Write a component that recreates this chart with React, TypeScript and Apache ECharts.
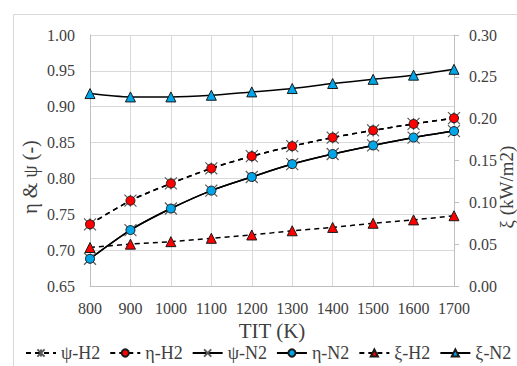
import React, { useEffect, useRef } from "react";
import * as echarts from "echarts";

const categories = ["800", "900", "1000", "1100", "1200", "1300", "1400", "1500", "1600", "1700"];
const psiH2 = [0.736, 0.769, 0.793, 0.814, 0.831, 0.845, 0.857, 0.867, 0.876, 0.884];
const etaH2 = [0.736, 0.769, 0.793, 0.814, 0.831, 0.845, 0.857, 0.867, 0.876, 0.884];
const psiN2 = [0.688, 0.728, 0.758, 0.783, 0.802, 0.820, 0.834, 0.846, 0.857, 0.866];
const etaN2 = [0.688, 0.728, 0.758, 0.783, 0.802, 0.820, 0.834, 0.846, 0.857, 0.866];
const xiH2 = [0.046, 0.050, 0.053, 0.057, 0.061, 0.066, 0.070, 0.075, 0.079, 0.084];
const xiN2 = [0.230, 0.226, 0.226, 0.228, 0.232, 0.236, 0.242, 0.247, 0.252, 0.259];

const FONT = "Liberation Serif, Times New Roman, serif";
const ASTER = "path://M0,0 L10,10 M10,0 L0,10 M5,0 L5,10";
const CROSS = "path://M0,0 L10,10 M10,0 L0,10";

export default function App() {
  const ref = useRef<HTMLDivElement>(null);
  useEffect(() => {
    if (!ref.current) return;
    const chart = echarts.init(ref.current, null, { renderer: "svg" });
    const dashed = { color: "#000", width: 1.5, type: [5, 4] as any };
    const solid = { color: "#000", width: 1.5, type: "solid" as any };
    chart.setOption({
      animation: false,
      textStyle: { fontFamily: FONT },
      grid: { left: 90, right: 63, top: 35, bottom: 80 },
      legend: {
        left: 20,
        top: 339,
        itemWidth: 30,
        itemHeight: 9,
        itemGap: 9,
        textStyle: { fontFamily: FONT, fontSize: 18, color: "#404040" },
        data: ["ψ-H2", "η-H2", "ψ-N2", "η-N2", "ξ-H2", "ξ-N2"],
      },
      graphic: [
        {
          type: "rect",
          left: 11,
          top: 12,
          shape: { width: 530, height: 380 },
          style: { stroke: "#d9d9d9", fill: "none", lineWidth: 1 },
          z: -10,
        },
        {
          type: "text",
          x: 30,
          y: 177,
          rotation: Math.PI / 2,
          style: { text: "η & ψ (-)", fontFamily: FONT, fontSize: 20, fill: "#404040", align: "center", verticalAlign: "middle" },
        },
        {
          type: "text",
          x: 506,
          y: 187,
          rotation: Math.PI / 2,
          style: { text: "ξ (kW/m2)", fontFamily: FONT, fontSize: 19, fill: "#404040", align: "center", verticalAlign: "middle" },
        },
      ],
      xAxis: {
        type: "category",
        data: categories,
        boundaryGap: false,
        name: "TIT (K)",
        nameLocation: "middle",
        nameGap: 31,
        nameTextStyle: { fontFamily: FONT, fontSize: 21, color: "#404040" },
        axisLine: { lineStyle: { color: "#bfbfbf" } },
        axisTick: { show: false },
        axisLabel: { interval: 0, fontFamily: FONT, fontSize: 16, color: "#404040", margin: 14 },
        splitLine: { show: true, interval: 0, lineStyle: { color: "#d9d9d9" } },
      },
      yAxis: [
        {
          type: "value",
          min: 0.65,
          max: 1.0,
          interval: 0.05,
          axisLine: { show: true, lineStyle: { color: "#bfbfbf" } },
          axisTick: { show: false },
          axisLabel: { fontFamily: FONT, fontSize: 16, color: "#404040", margin: 15, formatter: (v: number) => v.toFixed(2) },
          splitLine: { show: true, lineStyle: { color: "#d9d9d9" } },
        },
        {
          type: "value",
          min: 0,
          max: 0.3,
          interval: 0.05,
          position: "right",
          axisLine: { show: true, lineStyle: { color: "#bfbfbf" } },
          axisTick: { show: true, length: 5, lineStyle: { color: "#bfbfbf" } },
          axisLabel: { fontFamily: FONT, fontSize: 16, color: "#404040", margin: 15, formatter: (v: number) => v.toFixed(2) },
          splitLine: { show: false },
        },
      ],
      series: [
        {
          name: "ψ-H2",
          type: "line",
          data: psiH2,
          yAxisIndex: 0,
          smooth: 0.3,
          symbol: ASTER,
          symbolSize: 12,
          lineStyle: dashed,
          itemStyle: { color: "rgba(0,0,0,0)", borderColor: "#595959", borderWidth: 1.2 },
        },
        {
          name: "η-H2",
          type: "line",
          data: etaH2,
          yAxisIndex: 0,
          smooth: 0.3,
          symbol: "circle",
          symbolSize: 9,
          lineStyle: dashed,
          itemStyle: { color: "#ff0000", borderColor: "#1a1a1a", borderWidth: 1 },
        },
        {
          name: "ψ-N2",
          type: "line",
          data: psiN2,
          yAxisIndex: 0,
          smooth: 0.3,
          symbol: CROSS,
          symbolSize: 12,
          lineStyle: solid,
          itemStyle: { color: "rgba(0,0,0,0)", borderColor: "#595959", borderWidth: 1.2 },
        },
        {
          name: "η-N2",
          type: "line",
          data: etaN2,
          yAxisIndex: 0,
          smooth: 0.3,
          symbol: "circle",
          symbolSize: 9,
          lineStyle: solid,
          itemStyle: { color: "#00a6e8", borderColor: "#1a1a1a", borderWidth: 1 },
        },
        {
          name: "ξ-H2",
          type: "line",
          data: xiH2,
          yAxisIndex: 1,
          smooth: 0.3,
          symbol: "triangle",
          symbolSize: 10,
          lineStyle: dashed,
          itemStyle: { color: "#ff0000", borderColor: "#1a1a1a", borderWidth: 1 },
        },
        {
          name: "ξ-N2",
          type: "line",
          data: xiN2,
          yAxisIndex: 1,
          smooth: 0.3,
          symbol: "triangle",
          symbolSize: 10,
          lineStyle: solid,
          itemStyle: { color: "#00a6e8", borderColor: "#1a1a1a", borderWidth: 1 },
        },
      ],
    });
    return () => chart.dispose();
  }, []);
  return <div ref={ref} style={{ width: 517, height: 366, position: "absolute", left: 0, top: 0 }} />;
}
